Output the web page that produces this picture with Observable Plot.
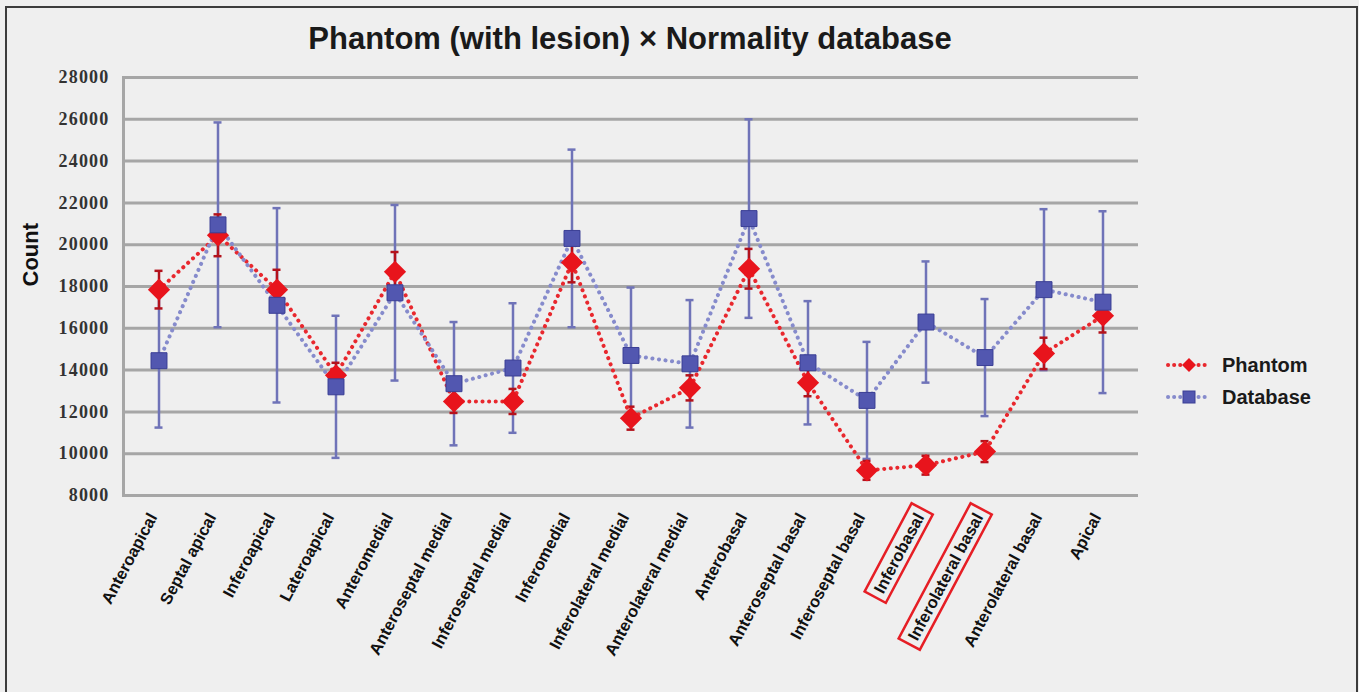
<!DOCTYPE html>
<html>
<head>
<meta charset="utf-8">
<script src="https://cdn.jsdelivr.net/npm/d3@7"></script>
<script src="https://cdn.jsdelivr.net/npm/@observablehq/plot@0.6"></script>
<style>
html, body { margin:0; padding:0; background:#efefef; overflow:hidden; width:1359px; height:692px; }
#frame { position:absolute; left:5px; top:6px; width:1353px; height:720px; border:2px solid #3c3c3c; box-sizing:border-box; }
#title { position:absolute; left:0; width:1260px; top:23px; text-align:center; font:bold 31px "Liberation Sans", Arial, sans-serif; line-height:31px; color:#1a1a1a; white-space:nowrap; }
#chart { position:absolute; left:0; top:62px; }
#legend { position:absolute; left:1165px; top:349px; font:bold 20px "Liberation Sans", Arial, sans-serif; color:#1a1a1a; }
.item { display:flex; align-items:center; height:32px; }
.item svg { margin-right:9px; }
#chart g[aria-label="y-axis tick label"] text { letter-spacing:1.2px; }
</style>
</head>
<body>
<div id="frame"></div>
<div id="title">Phantom (with lesion) × Normality database</div>
<div id="chart"></div>
<div id="legend">
  <div class="item"><svg width="48" height="20"><line x1="3" y1="10" x2="45" y2="10" stroke="#e8282e" stroke-width="4" stroke-dasharray="0.1 6" stroke-linecap="round"/><path d="M24,3 L31,10 L24,17 L17,10Z" fill="#e8141c"/></svg>Phantom</div>
  <div class="item"><svg width="48" height="20"><line x1="3" y1="10" x2="45" y2="10" stroke="#868bcc" stroke-width="4" stroke-dasharray="0.1 6" stroke-linecap="round"/><rect x="18" y="4" width="12" height="12" fill="#5257b0" stroke="#3b3f95" stroke-width="1"/></svg>Database</div>
</div>
<script>
const categories = ["Anteroapical","Septal apical","Inferoapical","Lateroapical","Anteromedial",
  "Anteroseptal medial","Inferoseptal medial","Inferomedial","Inferolateral medial","Anterolateral medial",
  "Anterobasal","Anteroseptal basal","Inferoseptal basal","Inferobasal","Inferolateral basal",
  "Anterolateral basal","Apical"];
const phantom   = [17850, 20450, 17850, 13750, 18700, 12500, 12500, 19150, 11700, 13150, 18850, 13400, 9200, 9450, 10100, 14800, 16600];
const phantomSD = [  900,  1000,   950,   600,   950,   550,   600,   950,   550,   600,   950,   650,  450,  450,   500,   750,   800];
const database   = [14450, 20950, 17100, 13200, 17700, 13350, 14100, 20300, 14700, 14300, 21250, 14350, 12550, 16300, 14600, 17850, 17250];
const databaseSD = [ 3200,  4900,  4650,  3400,  4200,  2950,  3100,  4250,  3250,  3050,  4750,  2950,  2800,  2900,  2800,  3850,  4350];
const yTicks = [8000, 10000, 12000, 14000, 16000, 18000, 20000, 22000, 24000, 26000, 28000];
const highlighted = ["Inferobasal", "Inferolateral basal"];

const rows = categories.map((c, i) => ({
  segment: c, phantom: phantom[i], pSD: phantomSD[i], database: database[i], dSD: databaseSD[i]
}));

const sans = '"Liberation Sans", Arial, sans-serif';
const blueBar = "#6f73b8", redBar = "#b3121c";

const plot = Plot.plot({
  width: 1150, height: 630,
  marginTop: 15, marginBottom: 197, marginLeft: 123, marginRight: 12,
  style: {background: "transparent", color: "#1a1a1a", fontFamily: sans, overflow: "visible"},
  x: {type: "band", domain: categories, padding: 0, axis: null},
  y: {domain: [8000, 28000], label: null, axis: null},
  marks: [
    Plot.gridY(yTicks, {stroke: "#a6a6a6", strokeWidth: 3, strokeOpacity: 1}),
    Plot.frame({anchor: "left", stroke: "#a6a6a6", strokeWidth: 3}),
    Plot.axisY(yTicks, {tickSize: 0, tickPadding: 14, tickFormat: d3.format("d"),
      fontFamily: '"Liberation Serif", "Times New Roman", serif', fontSize: 18, fontWeight: "bold",
      fill: "#333", label: null}),
    Plot.text(["Count"], {frameAnchor: "left", rotate: -90, dx: -93, fontSize: 22, fontWeight: "bold", fill: "#111"}),
    Plot.text(categories, {x: d => d, frameAnchor: "bottom", rotate: -62, textAnchor: "end", lineAnchor: "middle",
      dx: -6, dy: 19, fontSize: 16.5, fontWeight: "bold", fill: "#111"}),
    // Database error bars
    Plot.ruleX(rows, {x: "segment", y1: d => d.database - d.dSD, y2: d => d.database + d.dSD, stroke: blueBar, strokeWidth: 2.5}),
    Plot.tickY(rows, {x: "segment", y: d => d.database + d.dSD, stroke: blueBar, strokeWidth: 2.5, insetLeft: 25.5, insetRight: 25.5}),
    Plot.tickY(rows, {x: "segment", y: d => d.database - d.dSD, stroke: blueBar, strokeWidth: 2.5, insetLeft: 25.5, insetRight: 25.5}),
    // Phantom error bars
    Plot.ruleX(rows, {x: "segment", y1: d => d.phantom - d.pSD, y2: d => d.phantom + d.pSD, stroke: redBar, strokeWidth: 2.5}),
    Plot.tickY(rows, {x: "segment", y: d => d.phantom + d.pSD, stroke: redBar, strokeWidth: 2.5, insetLeft: 25.5, insetRight: 25.5}),
    Plot.tickY(rows, {x: "segment", y: d => d.phantom - d.pSD, stroke: redBar, strokeWidth: 2.5, insetLeft: 25.5, insetRight: 25.5}),
    // Lines
    Plot.line(rows, {x: "segment", y: "phantom", stroke: "#e8282e", strokeWidth: 4, strokeDasharray: "0.1 6.5", strokeLinecap: "round"}),
    Plot.line(rows, {x: "segment", y: "database", stroke: "#868bcc", strokeWidth: 4, strokeDasharray: "0.1 6.5", strokeLinecap: "round"}),
    // Markers
    Plot.dot(rows, {x: "segment", y: "phantom", symbol: "diamond2", r: 10, fill: "#e8141c", stroke: "none"}),
    Plot.dot(rows, {x: "segment", y: "database", symbol: "square", r: 9, fill: "#5257b0", stroke: "#3b3f95", strokeWidth: 1})
  ]
});

document.getElementById("chart").append(plot);

// outline the highlighted segment labels
plot.querySelectorAll("text").forEach(t => {
  if (highlighted.includes(t.textContent)) {
    const bb = t.getBBox();
    const r = document.createElementNS("http://www.w3.org/2000/svg", "rect");
    r.setAttribute("x", bb.x - 6);
    r.setAttribute("y", bb.y - 3);
    r.setAttribute("width", bb.width + 12);
    r.setAttribute("height", bb.height + 6);
    const tr = t.getAttribute("transform");
    if (tr) r.setAttribute("transform", tr);
    r.setAttribute("fill", "none");
    r.setAttribute("stroke", "#e61e25");
    r.setAttribute("stroke-width", "2.5");
    t.parentNode.insertBefore(r, t);
  }
});
</script>
</body>
</html>
